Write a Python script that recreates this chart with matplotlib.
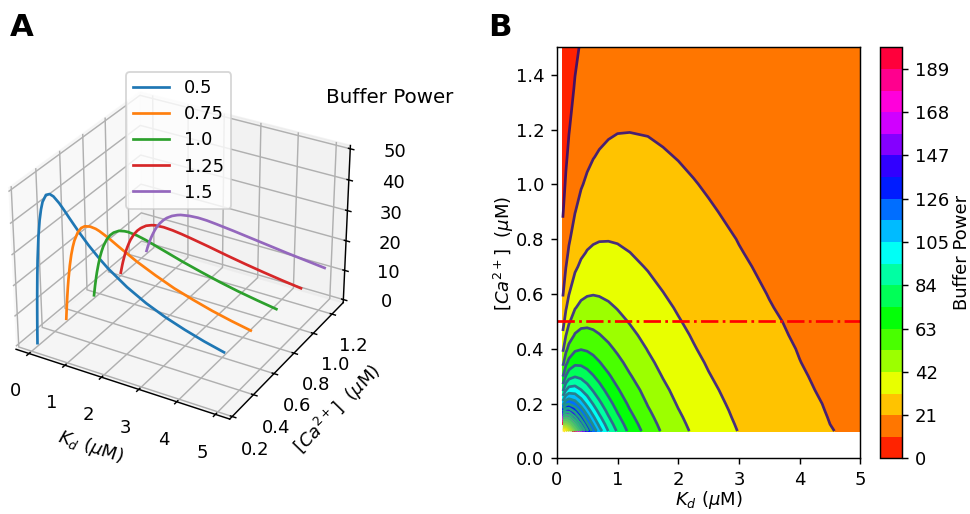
import numpy as np
import matplotlib.pyplot as plt

# [Ca2+] of each curve in panel A (legend) and depth where it sits on the Ca axis
ca_curves = [0.5, 0.75, 1.0, 1.25, 1.5]
ca_depth = [0.25, 0.5, 0.75, 1.0, 1.25]

# Kd samples (uM) for panel A curves, buffer power read for each curve
kd_line = [0, 0.01, 0.02, 0.035, 0.05, 0.075, 0.1, 0.15, 0.2, 0.25, 0.3, 0.4,
           0.5, 0.6, 0.75, 0.9, 1.0, 1.25, 1.5, 1.75, 2.0, 2.5, 3.0, 3.5,
           4.0, 4.5, 5.0]
bp_05 = [0, 3.8, 7.4, 12.2, 16.5, 22.7, 27.8, 35.5, 40.8, 44.4, 46.9, 49.4,
         50.0, 49.6, 48.0, 45.9, 44.4, 40.8, 37.5, 34.6, 32.0, 27.8, 24.5, 21.9,
         19.8, 18.0, 16.5]
bp_075 = [0, 1.7, 3.4, 5.7, 7.8, 11.0, 13.8, 18.5, 22.2, 25.0, 27.2, 30.2,
          32.0, 32.9, 33.3, 33.1, 32.7, 31.3, 29.6, 28.0, 26.4, 23.7, 21.3, 19.4,
          17.7, 16.3, 15.1]
bp_10 = [0, 1.0, 1.9, 3.3, 4.5, 6.5, 8.3, 11.3, 13.9, 16.0, 17.8, 20.4,
         22.2, 23.4, 24.5, 24.9, 25.0, 24.7, 24.0, 23.1, 22.2, 20.4, 18.8, 17.3,
         16.0, 14.9, 13.9]
bp_125 = [0, 0.6, 1.2, 2.1, 3.0, 4.3, 5.5, 7.7, 9.5, 11.1, 12.5, 14.7,
          16.3, 17.5, 18.8, 19.5, 19.8, 20.0, 19.8, 19.4, 18.9, 17.8, 16.6, 15.5,
          14.5, 13.6, 12.8]
bp_15 = [0, 0.4, 0.9, 1.5, 2.1, 3.0, 3.9, 5.5, 6.9, 8.2, 9.3, 11.1,
         12.5, 13.6, 14.8, 15.6, 16.0, 16.5, 16.7, 16.6, 16.3, 15.6, 14.8, 14.0,
         13.2, 12.5, 11.8]
bp_curves = [bp_05, bp_075, bp_10, bp_125, bp_15]

# panel B grid: Kd columns, Ca rows, buffer power values
kd_grid = [0.1, 0.15, 0.2, 0.3, 0.4, 0.5, 0.6, 0.7, 0.85, 1.0, 1.2, 1.5,
           1.75, 2.0, 2.25, 2.5, 3.0, 3.5, 4.0, 4.5, 5.0]
ca_grid = [0.1, 0.125, 0.15, 0.175, 0.2, 0.25, 0.3, 0.35, 0.4, 0.45, 0.5,
           0.55, 0.6, 0.7, 0.75, 0.8, 0.9, 1.0, 1.1, 1.2, 1.35, 1.5]
bp_grid = [
    [250.0, 240.0, 222.2, 187.5, 160.0, 138.9, 122.4, 109.4, 94.2, 82.6, 71.0, 58.6, 51.1, 45.4, 40.7, 37.0, 31.2, 27.0, 23.8, 21.3, 19.2],
    [197.5, 198.3, 189.3, 166.1, 145.1, 128.0, 114.1, 102.8, 89.4, 79.0, 68.4, 56.8, 49.8, 44.3, 39.9, 36.3, 30.7, 26.6, 23.5, 21.0, 19.0],
    [160.0, 166.7, 163.3, 148.1, 132.2, 118.3, 106.7, 96.9, 85.0, 75.6, 65.8, 55.1, 48.5, 43.3, 39.1, 35.6, 30.2, 26.3, 23.2, 20.8, 18.9],
    [132.2, 142.0, 142.2, 133.0, 121.0, 109.7, 99.9, 91.4, 80.9, 72.4, 63.5, 53.5, 47.2, 42.3, 38.3, 34.9, 29.8, 25.9, 22.9, 20.6, 18.7],
    [111.1, 122.4, 125.0, 120.0, 111.1, 102.0, 93.8, 86.4, 77.1, 69.4, 61.2, 51.9, 46.0, 41.3, 37.5, 34.3, 29.3, 25.6, 22.7, 20.4, 18.5],
    [81.6, 93.8, 98.8, 99.2, 94.7, 88.9, 83.0, 77.6, 70.2, 64.0, 57.1, 49.0, 43.8, 39.5, 36.0, 33.1, 28.4, 24.9, 22.1, 19.9, 18.1],
    [62.5, 74.1, 80.0, 83.3, 81.6, 78.1, 74.1, 70.0, 64.3, 59.2, 53.3, 46.3, 41.6, 37.8, 34.6, 31.9, 27.5, 24.2, 21.6, 19.5, 17.8],
    [49.4, 60.0, 66.1, 71.0, 71.1, 69.2, 66.5, 63.5, 59.0, 54.9, 49.9, 43.8, 39.7, 36.2, 33.3, 30.8, 26.7, 23.6, 21.1, 19.1, 17.5],
    [40.0, 49.6, 55.6, 61.2, 62.5, 61.7, 60.0, 57.9, 54.4, 51.0, 46.9, 41.6, 37.9, 34.7, 32.0, 29.7, 26.0, 23.0, 20.7, 18.7, 17.1],
    [33.1, 41.7, 47.3, 53.3, 55.4, 55.4, 54.4, 52.9, 50.3, 47.6, 44.1, 39.4, 36.2, 33.3, 30.9, 28.7, 25.2, 22.4, 20.2, 18.4, 16.8],
    [27.8, 35.5, 40.8, 46.9, 49.4, 50.0, 49.6, 48.6, 46.6, 44.4, 41.5, 37.5, 34.6, 32.0, 29.8, 27.8, 24.5, 21.9, 19.8, 18.0, 16.5],
    [23.7, 30.6, 35.6, 41.5, 44.3, 45.4, 45.4, 44.8, 43.4, 41.6, 39.2, 35.7, 33.1, 30.8, 28.7, 26.9, 23.8, 21.3, 19.3, 17.6, 16.2],
    [20.4, 26.7, 31.3, 37.0, 40.0, 41.3, 41.7, 41.4, 40.4, 39.1, 37.0, 34.0, 31.7, 29.6, 27.7, 26.0, 23.1, 20.8, 18.9, 17.3, 15.9],
    [15.6, 20.8, 24.7, 30.0, 33.1, 34.7, 35.5, 35.7, 35.4, 34.6, 33.2, 31.0, 29.2, 27.4, 25.9, 24.4, 21.9, 19.8, 18.1, 16.6, 15.4],
    [13.8, 18.5, 22.2, 27.2, 30.2, 32.0, 32.9, 33.3, 33.2, 32.7, 31.6, 29.6, 28.0, 26.4, 25.0, 23.7, 21.3, 19.4, 17.7, 16.3, 15.1],
    [12.3, 16.6, 20.0, 24.8, 27.8, 29.6, 30.6, 31.1, 31.2, 30.9, 30.0, 28.4, 26.9, 25.5, 24.2, 23.0, 20.8, 18.9, 17.4, 16.0, 14.9],
    [10.0, 13.6, 16.5, 20.8, 23.7, 25.5, 26.7, 27.3, 27.8, 27.7, 27.2, 26.0, 24.9, 23.8, 22.7, 21.6, 19.7, 18.1, 16.7, 15.4, 14.4],
    [8.3, 11.3, 13.9, 17.8, 20.4, 22.2, 23.4, 24.2, 24.8, 25.0, 24.8, 24.0, 23.1, 22.2, 21.3, 20.4, 18.8, 17.3, 16.0, 14.9, 13.9],
    [6.9, 9.6, 11.8, 15.3, 17.8, 19.5, 20.8, 21.6, 22.4, 22.7, 22.7, 22.2, 21.5, 20.8, 20.0, 19.3, 17.8, 16.5, 15.4, 14.3, 13.4],
    [5.9, 8.2, 10.2, 13.3, 15.6, 17.3, 18.5, 19.4, 20.2, 20.7, 20.8, 20.6, 20.1, 19.5, 18.9, 18.3, 17.0, 15.8, 14.8, 13.9, 13.0],
    [4.8, 6.7, 8.3, 11.0, 13.1, 14.6, 15.8, 16.7, 17.6, 18.1, 18.5, 18.5, 18.2, 17.8, 17.4, 16.9, 15.9, 14.9, 14.0, 13.1, 12.4],
    [3.9, 5.5, 6.9, 9.3, 11.1, 12.5, 13.6, 14.5, 15.4, 16.0, 16.5, 16.7, 16.6, 16.3, 16.0, 15.6, 14.8, 14.0, 13.2, 12.5, 11.8],
]
ca_ref = 0.5  # dash-dot reference line in B

fig = plt.figure(figsize=(970 / 130, 514 / 130), dpi=130)

# ---- panel A: 3D curves
ax3 = fig.add_axes([-0.03, 0.138, 0.426, 0.74], projection='3d')
for ca, y0, bp in zip(ca_curves, ca_depth, bp_curves):
    ax3.plot(kd_line, bp, zs=y0, zdir='y', label=str(ca))
ax3.set_xlabel(r'$K_d$ ($\mu$M)')
ax3.set_ylabel(r'$[Ca^{2+}]$  ($\mu$M)')
ax3.tick_params(axis='z', pad=7)
ax3.legend(loc='upper left', bbox_to_anchor=(0.13, 0.86),
           bbox_transform=fig.transFigure, borderaxespad=0, labelspacing=0.45)
fig.text(0.402, 0.81, 'Buffer Power', ha='center', va='center', fontsize=11)

# ---- panel B: contour map
ax = fig.add_axes([0.574, 0.108, 0.313, 0.8])
cax = fig.add_axes([0.907, 0.108, 0.023, 0.8])
fill_levels = np.arange(0, 200, 10.5)
line_levels = np.arange(0, 252, 10.5)
cf = ax.contourf(kd_grid, ca_grid, bp_grid, levels=fill_levels, cmap='hsv')
ax.contour(kd_grid, ca_grid, bp_grid, levels=line_levels, cmap='viridis')
ax.axhline(ca_ref, color='red', linestyle='-.')
ax.set_xlim(0, 5)
ax.set_ylim(0, 1.5)
ax.set_xlabel(r'$K_d$ ($\mu$M)', labelpad=0)
ax.set_ylabel(r'$[Ca^{2+}]$  ($\mu$M)')
ax.yaxis.set_label_coords(-0.135, 0.5)
cb = fig.colorbar(cf, cax=cax)
cb.set_label('Buffer Power', labelpad=2)

fig.text(0.01, 0.975, 'A', fontsize=17, fontweight='bold', va='top')
fig.text(0.503, 0.975, 'B', fontsize=17, fontweight='bold', va='top')

fig.savefig('out.png', dpi=130)
